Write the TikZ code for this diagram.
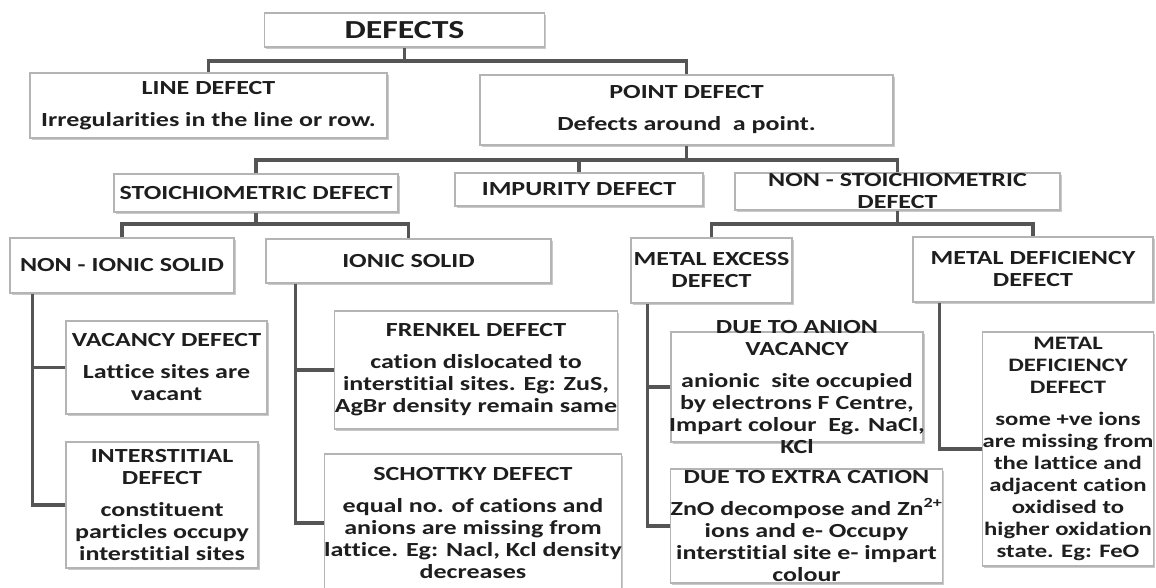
\documentclass[tikz,border=0pt]{standalone}
\usepackage{fontspec}
\setmainfont{Carlito}[FakeStretch=1.3, Ligatures=NoCommon]
\usepackage{tikz}
\usetikzlibrary{positioning,shadows}

\definecolor{boxgray}{HTML}{B4B4B4}
\definecolor{conngray}{HTML}{555555}
\definecolor{textgray}{HTML}{1E1E1E}

\newcommand{\bodyfont}{\fontsize{20}{22}\selectfont\bfseries}
\newcommand{\titlefont}{\fontsize{26}{30}\selectfont\bfseries}

\begin{document}
\begin{tikzpicture}[x=1pt,y=-1pt,
      box/.style={draw=boxgray, fill=white, line width=1.2pt, inner sep=0pt, align=center,
        text=textgray, font=\bodyfont,
        drop shadow={shadow xshift=1.5pt, shadow yshift=-1.5pt, opacity=0.35, fill=black!60}},
      conn/.style={line width=3.5pt, draw=conngray}]

    \useasboundingbox (0,0) rectangle (1156,587);
    \clip (0,0) rectangle (1156,587);

    %draw top level
    \node[box, minimum width=280, minimum height=34, font=\titlefont] (defects) at (404.5,30) {DEFECTS};
    \node[box, minimum width=357, minimum height=65] (linedef) at (208.5,105.5)
      {LINE DEFECT\\[10pt]Irregularities in the line or row.};
    \node[box, minimum width=413, minimum height=70] (pointdef) at (686.5,110)
      {POINT DEFECT\\[10pt]Defects around\ \ a point.};

    %draw kinds of point defect
    \node[box, minimum width=284, minimum height=38] (stoich) at (256,193) {STOICHIOMETRIC DEFECT};
    \node[box, minimum width=248, minimum height=33] (impurity) at (579,189.5) {IMPURITY DEFECT};
    \node[box, minimum width=325, minimum height=37,
      label={[font=\bodyfont, text=textgray, align=center]center:NON - STOICHIOMETRIC\\DEFECT}]
      (nonstoich) at (897.5,191.5) {};

    %draw solids
    \node[box, minimum width=224, minimum height=55] (nonionic) at (122,265.5) {NON - IONIC SOLID};
    \node[box, minimum width=285, minimum height=44] (ionic) at (408.5,261) {IONIC SOLID};

    %draw metal excess and deficiency
    \node[box, minimum width=161, minimum height=65] (metalex) at (711.5,270.5) {METAL EXCESS\\DEFECT};
    \node[box, minimum width=240, minimum height=65] (metaldef) at (1033,269.5) {METAL DEFICIENCY\\DEFECT};

    %draw non-ionic defects
    \node[box, minimum width=201, minimum height=93] (vacancy) at (166.5,367.5)
      {VACANCY DEFECT\\[10pt]Lattice sites are\\vacant};
    \node[box, minimum width=192, minimum height=126] (interstitial) at (162,505)
      {INTERSTITIAL\\DEFECT\\[10pt]constituent\\particles occupy\\interstitial sites};

    %draw ionic defects
    \node[box, minimum width=274, minimum height=118] (frenkel) at (476,370)
      {FRENKEL DEFECT\\[10pt]cation dislocated to\\interstitial sites. Eg: ZuS,\\AgBr density remain same};
    \node[box, minimum width=296, minimum height=138] (schottky) at (473,523)
      {SCHOTTKY DEFECT\\[10pt]equal no. of cations and\\anions are missing from\\lattice. Eg: Nacl, Kcl density\\decreases};

    %draw metal excess cases
    \node[box, minimum width=252, minimum height=110,
      label={[font=\bodyfont, text=textgray, align=center]center:DUE TO ANION\\VACANCY\\[10pt]anionic\ \ site occupied\\by electrons F Centre,\\Impart colour\ \ Eg. NaCl,\\KCl}]
      (anion) at (797,387) {};
    \node[box, minimum width=271, minimum height=114] (extracation) at (806.5,526)
      {DUE TO EXTRA CATION\\[10pt]ZnO decompose and Zn\textsuperscript{2+}\\ions and e- Occupy\\interstitial site e- impart\\colour};

    %draw metal deficiency case
    \node[box, minimum width=164, minimum height=234, font=\fontsize{19}{22}\selectfont\bfseries]
      (metaldefect) at (1068,449)
      {METAL\\DEFICIENCY\\DEFECT\\[10pt]some +ve ions\\are missing from\\the lattice and\\adjacent cation\\oxidised to\\higher oxidation\\state. Eg: FeO};

    %draw connectors of the upper levels
    \coordinate (topbus) at (404.5,61);
    \draw[conn] (defects.south) -- (topbus);
    \draw[conn] (linedef.north) |- (topbus) -| (pointdef.north);

    \coordinate (pointbus) at (686.5,160);
    \draw[conn] (pointdef.south) -- (pointbus);
    \draw[conn] (stoich.north) |- (pointbus) -| (nonstoich.north);
    \draw[conn] (impurity.north) -- (impurity.north |- pointbus);

    \coordinate (stoichbus) at (256,224);
    \draw[conn] (stoich.south) -- (stoichbus);
    \draw[conn] (nonionic.north) |- (stoichbus) -| (ionic.north);

    \coordinate (nonstoichbus) at (897.5,224);
    \draw[conn] (nonstoich.south) -- (nonstoichbus);
    \draw[conn] (metalex.north) |- (nonstoichbus) -| (metaldef.north);

    %draw side trunks
    \coordinate (nonionictrunk) at ([xshift=23pt]nonionic.south west);
    \draw[conn] (nonionictrunk) |- (interstitial.west);
    \draw[conn] (vacancy.west) -- (vacancy.west -| nonionictrunk);

    \coordinate (ionictrunk) at ([xshift=30pt]ionic.south west);
    \draw[conn] (ionictrunk) |- (schottky.west);
    \draw[conn] (frenkel.west) -- (frenkel.west -| ionictrunk);

    \coordinate (metalextrunk) at ([xshift=17pt]metalex.south west);
    \draw[conn] (metalextrunk) |- (extracation.west);
    \draw[conn] (anion.west) -- (anion.west -| metalextrunk);

    \coordinate (metaldeftrunk) at ([xshift=27pt]metaldef.south west);
    \draw[conn] (metaldeftrunk) |- (metaldefect.west);

\end{tikzpicture}
\end{document}
